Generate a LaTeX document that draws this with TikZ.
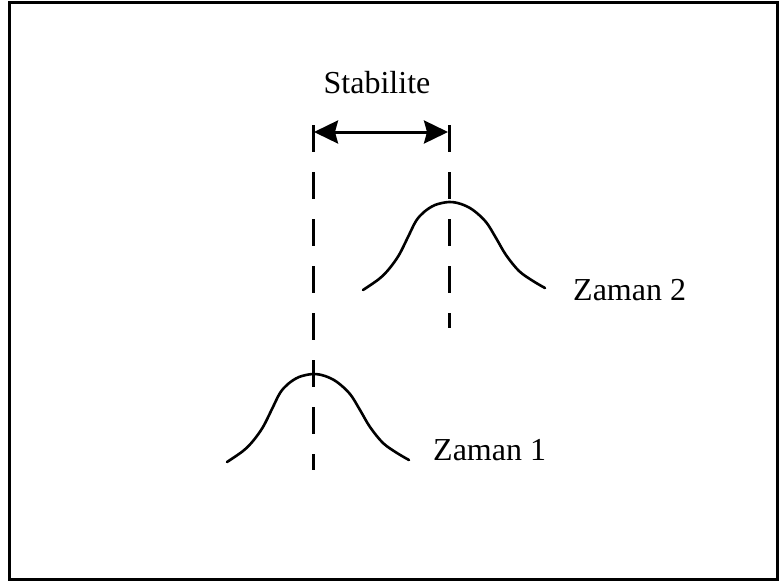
\documentclass[tikz,border=0pt]{standalone}
\usepackage{fontspec}
\setmainfont{Liberation Serif}
\usepackage{tikz}
\usetikzlibrary{arrows.meta}

\begin{document}
\begin{tikzpicture}[
  x=1pt, y=-1pt,
  frame/.style={line width=3pt},
  bell/.style={line width=2.6pt, line cap=round},
  dline/.style={line width=3pt, dash pattern=on 27pt off 20pt},
  arr/.style={{Stealth[length=24pt, width=23pt, inset=3pt]}-{Stealth[length=24pt, width=23pt, inset=3pt]}, line width=3pt},
  lbl/.style={inner sep=0pt, font=\fontsize{32}{38}\selectfont},
]
  \useasboundingbox (0,0) rectangle (779,582);
  \draw[frame] (9,2) rectangle (777,579);

  % Coordinates
  \coordinate (peak1) at (313,374);
  \coordinate (peak2) at (449,202);
  \coordinate (top1) at (313,125);
  \coordinate (top2) at (449,125);
  \coordinate (bot1) at (313,470);
  \coordinate (bot2) at (449,328);
  \coordinate (al) at (314,132);
  \coordinate (ar) at (448,132);

  % Curves
  \foreach \p in {peak1,peak2}
    \draw[bell, shift={(\p)}] plot[smooth, tension=0.55] coordinates {
      (-86,88) (-70,77) (-60,67) (-50,53) (-41,35) (-33,19) (-25,10) (-14,3) (0,0)
      (12,2) (24,8) (37,20) (47,36) (57,53) (70,69) (84,79) (96,86)};

  % Dashed lines
  \draw[dline] (top1) -- (bot1);
  \draw[dline] (top2) -- (bot2);

  % Arrows
  \draw[arr] (al) -- (ar);

  % Labels
  \node[lbl, anchor=base] (stab) at (377,93) {Stabilite};
  \node[lbl, anchor=base west] (z2) at (573,300) {Zaman 2};
  \node[lbl, anchor=base west] (z1) at (433,460) {Zaman 1};
\end{tikzpicture}
\end{document}
